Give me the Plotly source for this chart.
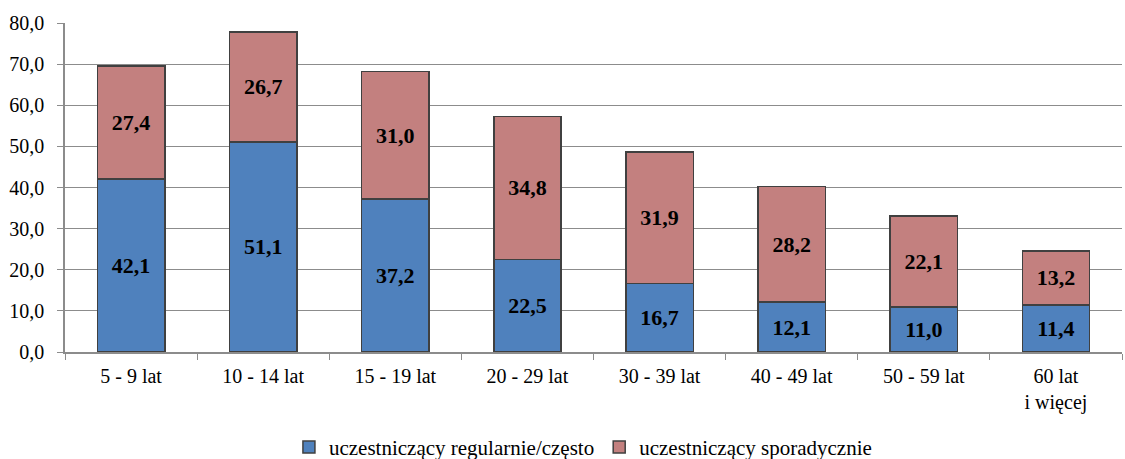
import plotly.graph_objects as go

categories = ["5 - 9 lat", "10 - 14 lat", "15 - 19 lat", "20 - 29 lat",
              "30 - 39 lat", "40 - 49 lat", "50 - 59 lat", "60 lat<br>i więcej"]
regular = [42.1, 51.1, 37.2, 22.5, 16.7, 12.1, 11.0, 11.4]
sporadic = [27.4, 26.7, 31.0, 34.8, 31.9, 28.2, 22.1, 13.2]

serif = "'Liberation Serif', 'Times New Roman', serif"
edge = dict(color="#404040", width=1.5)
label_font = dict(family=serif, size=22, color="black", weight="bold")
axis_font = dict(family=serif, size=20, color="black")

fig = go.Figure()
fig.add_trace(go.Bar(x=categories, y=regular, name="uczestniczący regularnie/często",
                     marker=dict(color="#4F81BD", line=edge),
                     texttemplate="%{y:.1f}", textposition="inside",
                     insidetextanchor="middle", textfont=label_font))
fig.add_trace(go.Bar(x=categories, y=sporadic, name="uczestniczący sporadycznie",
                     marker=dict(color="#C3807F", line=edge),
                     texttemplate="%{y:.1f}", textposition="inside",
                     insidetextanchor="middle", textfont=label_font))

fig.update_layout(
    barmode="stack", bargap=0.49, separators=", ",
    width=1125, height=459,
    margin=dict(l=65, r=3, t=23, b=107, autoexpand=False),
    plot_bgcolor="white", paper_bgcolor="white",
    font=axis_font,
    uniformtext=dict(mode="show", minsize=10),
    legend=dict(orientation="h", x=0.49, xanchor="center", y=-0.29, yanchor="middle",
                font=dict(family=serif, size=21, color="black"),
                traceorder="normal", itemwidth=30),
)
fig.update_yaxes(range=[0, 80], dtick=10, tickformat=".1f", showgrid=True,
                 gridcolor="#8C8C8C", gridwidth=1, showline=True, linecolor="#8C8C8C",
                 linewidth=1.5, ticks="outside", ticklen=6, tickcolor="#8C8C8C",
                 ticklabelstandoff=9, zeroline=False, automargin=False,
                 tickfont=axis_font)
fig.update_xaxes(showline=True, linecolor="#8C8C8C", linewidth=1.5, ticks="outside",
                 tickson="boundaries", ticklen=6, tickcolor="#8C8C8C",
                 ticklabelstandoff=5, automargin=False, tickfont=axis_font)

fig.write_html("out.html", config={"displayModeBar": False},
               post_script="document.body.style.margin='0';")
